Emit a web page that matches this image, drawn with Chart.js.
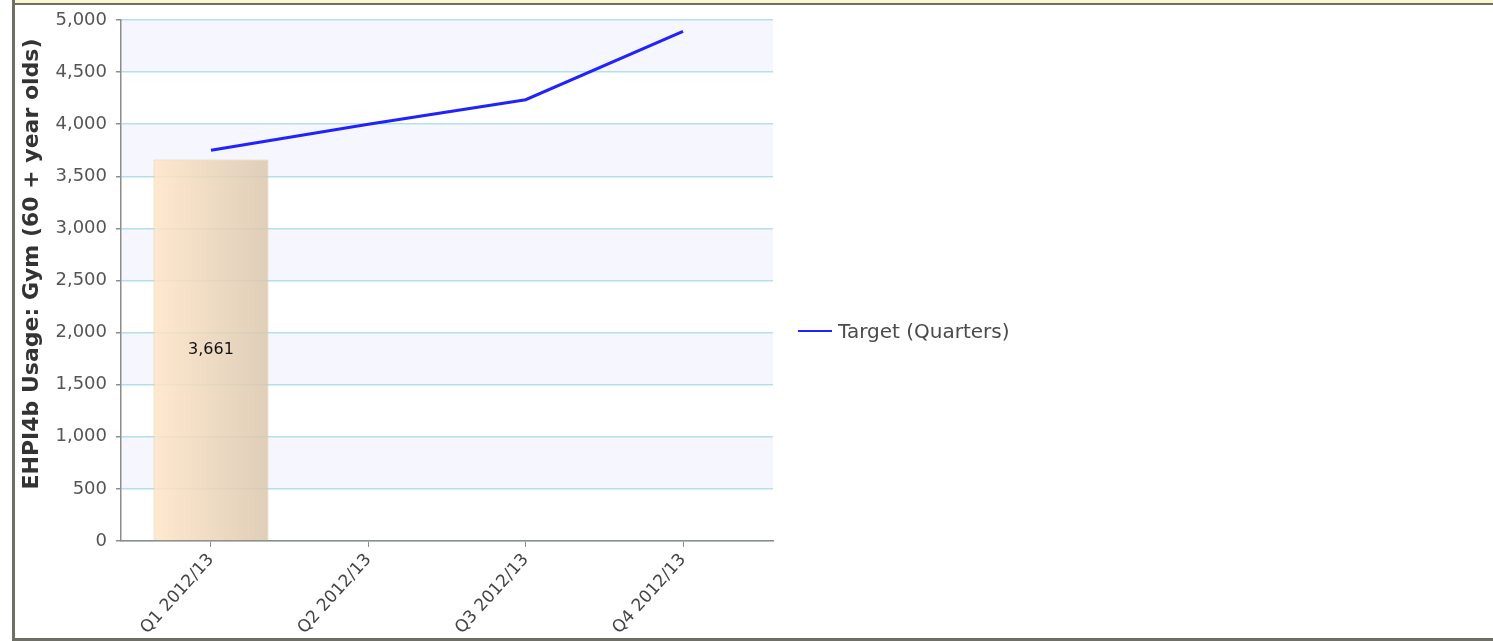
<!DOCTYPE html>
<html>
<head>
<meta charset="utf-8">
<script src="https://cdn.jsdelivr.net/npm/chart.js@4/dist/chart.umd.min.js"></script>
<style>
  html, body { margin: 0; padding: 0; background: #ffffff; width: 1493px; height: 641px; overflow: hidden; }
  #topStrip { position: absolute; left: 15px; top: 0; width: 1478px; height: 3px; background: #fbf6d2; }
  #topLine { position: absolute; left: 12px; top: 3px; width: 1481px; height: 2px; background: #6f6f66; }
  #leftLine { position: absolute; left: 12px; top: 0; width: 3px; height: 641px; background: #6f6f66; }
  #bottomLine { position: absolute; left: 12px; top: 638px; width: 1481px; height: 3px; background: #6f6f66; }
  #wrap { position: absolute; left: 15px; top: 5px; width: 1478px; height: 633px; }
  #legend { position: absolute; left: 798px; top: 319px; font-family: "DejaVu Sans", sans-serif; font-size: 20px; color: #4a4a4a; white-space: nowrap; }
  #legend .item { display: flex; align-items: center; height: 24px; }
  #legend .mark { display: inline-block; width: 34px; height: 0; border-top: 2px solid #2222ff; margin-right: 6px; }
</style>
</head>
<body>
<div id="topStrip"></div>
<div id="topLine"></div>
<div id="leftLine"></div>
<div id="bottomLine"></div>
<div id="wrap"><canvas id="c"></canvas></div>
<div id="legend"></div>
<script>
const categories = ['Q1 2012/13', 'Q2 2012/13', 'Q3 2012/13', 'Q4 2012/13'];
const actualValues = [3661];
const targetValues = [3750, 4000, 4235, 4890];
const yTicks = [0, 500, 1000, 1500, 2000, 2500, 3000, 3500, 4000, 4500, 5000];
const yTitle = 'EHPI4b Usage: Gym (60 + year olds)';
const actualLabel = 'Actual';
const targetLabel = 'Target (Quarters)';

const BAR_PCT = 0.731;

const bandsPlugin = {
  id: 'bands',
  beforeDraw(chart) {
    const { ctx, chartArea, scales } = chart;
    const y = scales.y;
    ctx.save();
    ctx.fillStyle = '#f6f7fe';
    for (let k = 0; k < yTicks.length - 1; k++) {
      if (k % 2 === 1) {
        const top = y.getPixelForValue(yTicks[k + 1]);
        const bot = y.getPixelForValue(yTicks[k]);
        ctx.fillRect(chartArea.left, top, chartArea.right - chartArea.left, bot - top);
      }
    }
    ctx.restore();
  }
};

const titlePlugin = {
  id: 'ytitle',
  afterDraw(chart) {
    const { ctx } = chart;
    ctx.save();
    ctx.translate(17, 259);
    ctx.rotate(-Math.PI / 2);
    ctx.font = 'bold 22px "DejaVu Sans", sans-serif';
    ctx.fillStyle = '#333333';
    ctx.textAlign = 'center';
    ctx.textBaseline = 'middle';
    ctx.fillText(yTitle, 0, 0);
    ctx.restore();
  }
};

const valueLabelPlugin = {
  id: 'valueLabel',
  afterDatasetsDraw(chart) {
    const { ctx } = chart;
    const meta = chart.getDatasetMeta(0);
    ctx.save();
    ctx.font = '16px "DejaVu Sans", sans-serif';
    ctx.fillStyle = '#111111';
    ctx.textAlign = 'center';
    ctx.textBaseline = 'middle';
    meta.data.forEach((el, i) => {
      const p = el.getProps(['x', 'y', 'base'], true);
      ctx.fillText(actualValues[i].toLocaleString('en-US'), p.x, (p.y + p.base) / 2);
    });
    ctx.restore();
  }
};

function barGradient(context) {
  const chart = context.chart;
  const xs = chart.scales.x;
  if (!xs || !chart.chartArea) return 'rgba(240,215,185,0.85)';
  const idx = context.dataIndex;
  const center = xs.getPixelForValue(idx);
  const half = (xs.getPixelForValue(1) - xs.getPixelForValue(0)) * BAR_PCT / 2;
  const g = chart.ctx.createLinearGradient(center - half, 0, center + half, 0);
  g.addColorStop(0, 'rgba(255,229,198,0.85)');
  g.addColorStop(1, 'rgba(218,198,172,0.85)');
  return g;
}

const chart = new Chart(document.getElementById('c'), {
  type: 'bar',
  data: {
    datasets: [
      {
        type: 'bar',
        label: actualLabel,
        data: actualValues.map((v, i) => ({ x: i, y: v })),
        backgroundColor: barGradient,
        borderColor: 'rgba(225,200,168,0.9)',
        borderWidth: 1,
        barPercentage: BAR_PCT,
        categoryPercentage: 1,
        order: 2
      },
      {
        type: 'line',
        label: targetLabel,
        data: targetValues.map((v, i) => ({ x: i, y: v })),
        borderColor: '#2222ff',
        backgroundColor: '#2222ff',
        borderWidth: 3,
        pointRadius: 0,
        tension: 0,
        fill: false,
        order: 1
      }
    ]
  },
  options: {
    responsive: true,
    maintainAspectRatio: false,
    animation: false,
    layout: { padding: { top: 15, right: 720, left: 0, bottom: 0 } },
    plugins: {
      legend: { display: false },
      tooltip: { enabled: false }
    },
    scales: {
      x: {
        type: 'linear',
        offset: false,
        min: -0.572,
        max: 3.572,
        afterFit(scale) { scale.height = 97; scale.paddingLeft = 0; scale.paddingRight = 0; },
        afterBuildTicks(scale) { scale.ticks = categories.map((c, i) => ({ value: i })); },
        ticks: {
          stepSize: 1,
          includeBounds: false,
          autoSkip: false,
          minRotation: 48,
          maxRotation: 48,
          padding: 3,
          color: '#444444',
          font: { family: 'DejaVu Sans', size: 17 },
          callback: (v) => categories[v] !== undefined ? categories[v] : ''
        },
        grid: { offset: false, drawOnChartArea: false, drawTicks: true, tickLength: 6, tickColor: '#8c8c8c' },
        border: { color: '#8c8c8c', width: 1.5 }
      },
      y: {
        min: 0,
        max: 5000,
        afterFit(scale) { scale.width = 106; scale.paddingTop = 0; scale.paddingBottom = 0; },
        afterBuildTicks(scale) { scale.ticks = yTicks.map(v => ({ value: v })); },
        ticks: {
          stepSize: 500,
          autoSkip: false,
          padding: 9,
          color: '#555555',
          font: { family: 'DejaVu Sans', size: 18 },
          callback: (v) => v.toLocaleString('en-US')
        },
        grid: { color: '#b3e0e9', lineWidth: 1.5, tickLength: 5, tickColor: '#8c8c8c' },
        border: { color: '#8c8c8c', width: 1.5 }
      }
    }
  },
  plugins: [bandsPlugin, titlePlugin, valueLabelPlugin]
});

// HTML legend built from the chart's datasets (only the target line is listed)
const legendEl = document.getElementById('legend');
chart.data.datasets.filter(d => d.type === 'line').forEach(d => {
  const item = document.createElement('div');
  item.className = 'item';
  const mark = document.createElement('span');
  mark.className = 'mark';
  mark.style.borderTopColor = d.borderColor;
  const txt = document.createElement('span');
  txt.textContent = d.label;
  item.appendChild(mark);
  item.appendChild(txt);
  legendEl.appendChild(item);
});
</script>
</body>
</html>
